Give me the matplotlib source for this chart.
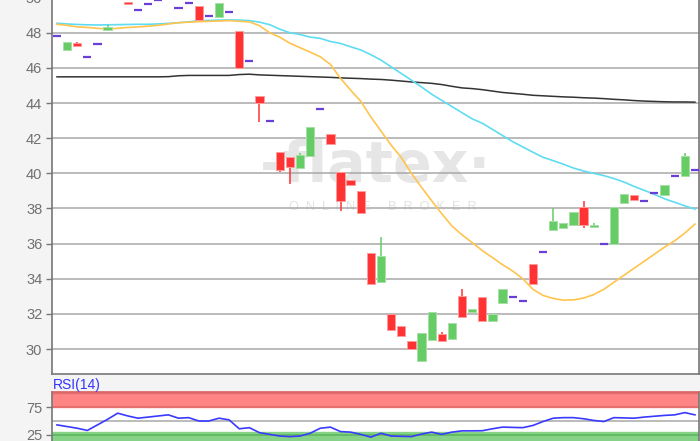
import numpy as np
import matplotlib
matplotlib.use("Agg")
import matplotlib.pyplot as plt

plt.rcParams['font.family'] = ['Liberation Sans', 'DejaVu Sans']

nan = np.nan
# Daily candles (open == close -> flat day drawn as a purple dash)
opens = [47.81, 47.0, 47.4, 46.6, 47.35, 48.15, nan, 49.74, 49.28, 49.64,
         49.87, nan, 49.43, 49.7, 49.53, 48.97, 48.88, 49.2, 48.11, 46.38,
         44.4, 42.97, 41.2, 40.91, 40.29, 41.01, 43.68, 42.25, 40.06, 39.6,
         39.0, 35.45, 33.84, 32.0, 31.33, 30.44, 29.3, 30.54, 30.84, 30.6,
         33.03, 32.13, 32.97, 31.57, 32.6, 32.95, 32.72, 34.86, 35.5, 36.8,
         36.86, 37.08, 38.1, 36.95, 36.0, 36.0, 38.32, 38.75, 38.44, 38.87,
         38.78, 39.87, 39.87, 40.16]
closes = [47.81, 47.5, 47.27, 46.6, 47.35, 48.3, nan, 49.62, 49.28, 49.64,
          49.87, nan, 49.43, 49.7, 48.73, 48.97, 49.68, 49.2, 46.0, 46.38,
          44.0, 42.97, 40.19, 40.34, 41.05, 42.63, 43.68, 41.68, 38.4, 39.33,
          37.74, 33.7, 35.3, 31.09, 30.76, 30.0, 30.9, 32.1, 30.46, 31.46,
          31.8, 32.27, 31.57, 32.0, 33.4, 32.95, 32.72, 33.7, 35.5, 37.28,
          37.15, 37.8, 37.08, 37.05, 36.0, 38.1, 38.83, 38.5, 38.44, 38.87,
          39.35, 39.87, 41.0, 40.16]
# visible wicks only (index: value)
highs = {2: 47.45, 5: 48.44, 24: 41.15, 32: 36.37, 38: 30.95, 40: 33.4,
         49: 38.0, 52: 38.4, 53: 37.2, 62: 41.15}
lows = {20: 42.91, 22: 40.06, 23: 39.4, 28: 37.83, 52: 36.86}

ma_cyan = [48.54, 48.5, 48.47, 48.45, 48.44, 48.45, 48.46, 48.47, 48.48, 48.48,
           48.5, 48.53, 48.57, 48.62, 48.68, 48.7, 48.72, 48.73, 48.72, 48.69,
           48.6, 48.46, 48.2, 48.0, 47.9, 47.75, 47.68, 47.5, 47.39, 47.2,
           47.02, 46.75, 46.44, 46.06, 45.68, 45.3, 44.91, 44.5, 44.15, 43.8,
           43.45, 43.1, 42.85, 42.5, 42.15, 41.8, 41.5, 41.2, 40.91, 40.72,
           40.52, 40.3, 40.13, 40.0, 39.87, 39.7, 39.5, 39.25, 39.03, 38.8,
           38.55, 38.35, 38.15, 37.96]
ma_orange = [48.48, 48.42, 48.33, 48.3, 48.25, 48.21, 48.25, 48.3, 48.33, 48.37,
             48.42, 48.5, 48.57, 48.6, 48.63, 48.65, 48.67, 48.69, 48.65, 48.62,
             48.4, 48.0, 47.75, 47.4, 47.15, 46.9, 46.63, 46.2, 45.4, 44.73,
             44.1, 43.2, 42.4, 41.6, 40.9, 40.0, 39.2, 38.44, 37.7, 37.0,
             36.5, 36.06, 35.6, 35.21, 34.8, 34.44, 34.0, 33.4, 33.05, 32.88,
             32.78, 32.8, 32.9, 33.1, 33.4, 33.8, 34.2, 34.6, 35.0, 35.4,
             35.8, 36.16, 36.6, 37.11]
ma_black = [45.49, 45.49, 45.49, 45.49, 45.49, 45.49, 45.49, 45.49, 45.49, 45.49,
            45.49, 45.5, 45.55, 45.57, 45.57, 45.57, 45.57, 45.57, 45.62, 45.64,
            45.6, 45.58, 45.56, 45.54, 45.52, 45.5, 45.48, 45.46, 45.43, 45.41,
            45.39, 45.36, 45.34, 45.3, 45.25, 45.2, 45.16, 45.12, 45.05, 44.95,
            44.86, 44.82, 44.76, 44.68, 44.6, 44.55, 44.5, 44.44, 44.41, 44.38,
            44.35, 44.33, 44.3, 44.28, 44.25, 44.21, 44.18, 44.14, 44.11, 44.09,
            44.07, 44.06, 44.06, 44.05]
rsi = [43, 40, 37, 33, 43, 53, 64, 59, 55, 57, 59, 61, 55, 56, 50, 50, 55, 52,
       36, 38, 29, 26, 23, 22, 23, 28, 37, 39, 31, 30, 26, 21, 28, 23, 22.5,
       22, 26.5, 30, 26, 30, 32.3, 32.3, 32.5, 36, 39, 38.5, 38, 42, 49, 55,
       56, 56, 54, 51, 49, 56, 55.5, 55, 57, 58.5, 60, 61, 65, 61]
price_ticks = list(range(30, 51, 2))
rsi_ticks = [25, 75]

W, H = 700, 441
fig = plt.figure(figsize=(W / 100, H / 100), dpi=100, facecolor='#f4f4f4')

def frac(x0, y0, x1, y1):
    # pixel box (top-left origin) -> figure fraction
    return [x0 / W, 1 - y1 / H, (x1 - x0) / W, (y1 - y0) / H]

ax = fig.add_axes(frac(52, -20, 698.5, 374))
rx = fig.add_axes(frac(52, 392, 698.5, 460))

gray = '#777777'
for a in (ax, rx):
    a.set_facecolor('white')
    for s in ('top', 'right', 'bottom', 'left'):
        a.spines[s].set_color(gray)
        a.spines[s].set_linewidth(1.2)
    a.tick_params(axis='y', length=4, color=gray, labelcolor='#707070',
                  labelsize=10.5, width=1, pad=3)
    a.set_xticks([])
    a.set_xlim(-0.49, 63.35)

ax.spines['top'].set_visible(False)
ax.set_ylim(28.58, 51.0)
ax.set_yticks(price_ticks)
ax.grid(True, axis='y', color='#a8a8a8', linewidth=1.1, zorder=0.5)
ax.set_axisbelow(True)

# watermark, behind grid and candles
ax.text(375 / W, 1 - 182 / H, '-flatex\u00b7', ha='center', va='baseline',
        fontsize=41, fontweight='bold', family='DejaVu Sans', color='#e6e6e6',
        transform=fig.transFigure, zorder=0.1)
ax.text(383 / W, 1 - 207 / H, 'O  N  L  I  N  E     B  R  O  K  E  R',
        ha='center', va='center', fontsize=9.2, color='#e2e2e2',
        transform=fig.transFigure, zorder=0.1)

x = np.arange(len(opens))
ax.plot(x, ma_black, color='#333333', lw=1.1, zorder=2)
ax.plot(x, ma_cyan, color='#5fdcf2', lw=1.2, zorder=2)
ax.plot(x, ma_orange, color='#ffc44d', lw=1.2, zorder=2)

red, green, purple = '#ff3333', '#66cc66', '#6a3fd8'
for i in x:
    o, c = opens[i], closes[i]
    if np.isnan(o):
        continue
    if o == c:
        ax.hlines(o, i - 0.4, i + 0.4, color=purple, lw=1.6, zorder=3)
        continue
    col = green if c > o else red
    edge = '#a6e0a6' if c > o else '#ff9c9c'
    hi = highs.get(i, max(o, c))
    lo = lows.get(i, min(o, c))
    if hi > max(o, c) or lo < min(o, c):
        ax.vlines(i, lo, hi, color=col, lw=1.1, zorder=3)
    ax.bar(i, abs(c - o), bottom=min(o, c), width=0.82, color=col,
           edgecolor=edge, linewidth=0.7, zorder=4)

# RSI panel
rx.set_ylim(-20, 102)
rx.set_yticks(rsi_ticks)
rx.axhspan(75, 102, color='#ff8585', zorder=0)
rx.axhline(75, color='#e06a6a', lw=1.2, zorder=1)
rx.axhline(100, color='#e07070', lw=1.0, zorder=1)
rx.axhspan(-20, 30.5, color='#86d286', zorder=0)
rx.axhline(25, color='#5cb85c', lw=1.2, zorder=1)
rx.axhline(50, color='#a8a8a8', lw=1.1, zorder=1)
rx.spines['top'].set_color('#d96060')
rx.plot(x, rsi, color='#3a3aff', lw=1.2, zorder=3)
fig.text(53 / W, 1 - 385 / H, 'RSI(14)', ha='left', va='center',
         fontsize=10, color='#3333ff')

fig.savefig('out.png', dpi=100, facecolor=fig.get_facecolor())
